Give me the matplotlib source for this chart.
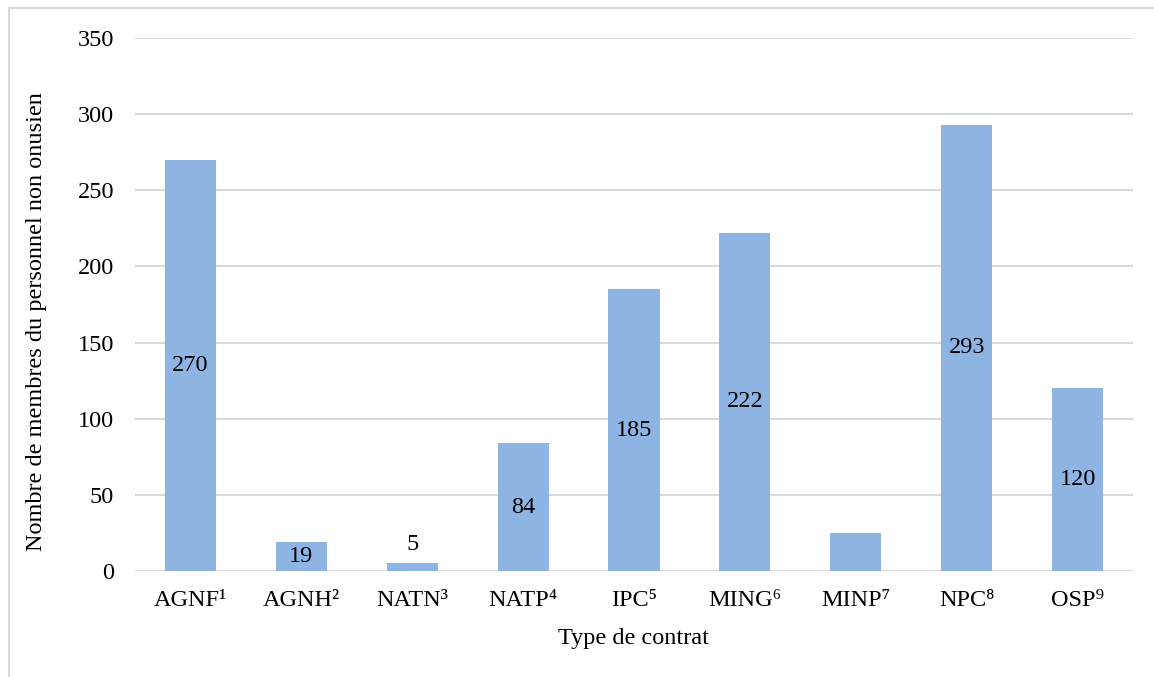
import matplotlib.pyplot as plt
from matplotlib.patches import Rectangle

categories = ['AGNF¹', 'AGNH²', 'NATN³', 'NATP⁴', 'IPC⁵', 'MING⁶', 'MINP⁷', 'NPC⁸', 'OSP⁹']
values = [270, 19, 5, 84, 185, 222, 25, 293, 120]
# labels shown on the chart (MINP has none in the original)
shown_labels = ['270', '19', '5', '84', '185', '222', None, '293', '120']

plt.rcParams['font.family'] = ['Liberation Serif', 'DejaVu Serif']
FS = 17.5

fig = plt.figure(figsize=(11.54, 6.77), dpi=100)
ax = fig.add_axes([135 / 1154, 1 - 571 / 677, 998 / 1154, 533 / 677])

x = range(len(categories))
bars = ax.bar(x, values, width=0.46, color='#8EB4E3', zorder=3)

ax.set_xlim(-0.5, len(categories) - 0.5)
ax.set_ylim(0, 350)
ax.set_yticks(range(0, 351, 50))
ax.set_xticks(list(x))
ax.set_xticklabels(categories, fontsize=FS)
ax.tick_params(axis='y', labelsize=FS, length=0, pad=15)
ax.tick_params(axis='x', length=0, pad=14)

ax.grid(axis='y', color='#D9D9D9', linewidth=1.5, zorder=0)
for spine in ax.spines.values():
    spine.set_visible(False)

# value labels in the middle of each bar (small one above)
for bar, lab in zip(bars, shown_labels):
    if lab is None:
        continue
    h = bar.get_height()
    cx = bar.get_x() + bar.get_width() / 2
    if h < 10:
        ax.annotate(lab, (cx, h), xytext=(0, 6), textcoords='offset points',
                    ha='center', va='bottom', fontsize=FS)
    else:
        ax.text(cx, h / 2, lab, ha='center', va='center', fontsize=FS, zorder=4)

ax.set_xlabel('Type de contrat', fontsize=FS, labelpad=12)
ax.set_ylabel('Nombre de membres du personnel non onusien', fontsize=FS)
ax.yaxis.set_label_coords(-88 / 998, 0.468)

# light outer frame (top and left edges visible)
fig.patches.append(Rectangle((9 / 1154, -0.05), 1.1, 1 - 8 / 677 + 0.05,
                             transform=fig.transFigure, fill=False,
                             edgecolor='#D9D9D9', linewidth=1.5))

fig.savefig('out.png', dpi=100)
